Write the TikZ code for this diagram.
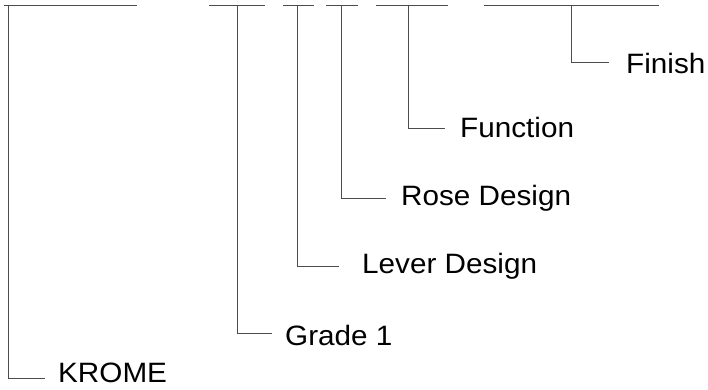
\documentclass[tikz,border=0pt]{standalone}
\usepackage{fontspec}
\setmainfont{Liberation Sans}[FakeStretch=1.06]
\tikzstyle{leaf} = [inner sep=0pt, anchor=base west, font=\fontsize{28}{30}\selectfont]
\tikzstyle{line} = [draw, black!70, line width=0.8pt]

\begin{document}
\begin{tikzpicture}[x=1pt, y=-1pt]
\useasboundingbox (0,0) rectangle (708,389);
% bar ends and branch points
\coordinate (krome_a) at (4,5);   \coordinate (krome_b) at (137,5);  \coordinate (krome_top) at (8,5);
\coordinate (grade_a) at (209,5); \coordinate (grade_b) at (265,5);  \coordinate (grade_top) at (237,5);
\coordinate (lever_a) at (283,5); \coordinate (lever_b) at (314,5);  \coordinate (lever_top) at (297,5);
\coordinate (rose_a) at (326,5);  \coordinate (rose_b) at (358,5);   \coordinate (rose_top) at (341,5);
\coordinate (func_a) at (376,5);  \coordinate (func_b) at (448,5);   \coordinate (func_top) at (408,5);
\coordinate (fin_a) at (484,5);   \coordinate (fin_b) at (659,5);    \coordinate (fin_top) at (571,5);
% labels (placed on their baselines)
\node[leaf] (krome) at (58,382) {KROME};
\node[leaf] (grade) at (285,345) {Grade 1};
\node[leaf] (lever) at (362,273) {Lever Design};
\node[leaf] (rose) at (401,205) {Rose Design};
\node[leaf] (func) at (460,137) {Function};
\node[leaf] (fin) at (626,73) {Finish};
% bars
\path [line] (krome_a) -- (krome_b);
\path [line] (grade_a) -- (grade_b);
\path [line] (lever_a) -- (lever_b);
\path [line] (rose_a) -- (rose_b);
\path [line] (func_a) -- (func_b);
\path [line] (fin_a) -- (fin_b);
% elbows
\path [line] (krome_top) |- ([xshift=-13pt, yshift=4pt]krome.base west);
\path [line] (grade_top) |- ([xshift=-13pt, yshift=12pt]grade.base west);
\path [line] (lever_top) |- ([xshift=-23pt, yshift=7pt]lever.base west);
\path [line] (rose_top) |- ([xshift=-15pt, yshift=7pt]rose.base west);
\path [line] (func_top) |- ([xshift=-15pt, yshift=9pt]func.base west);
\path [line] (fin_top) |- ([xshift=-17pt, yshift=11pt]fin.base west);
\end{tikzpicture}
\end{document}
